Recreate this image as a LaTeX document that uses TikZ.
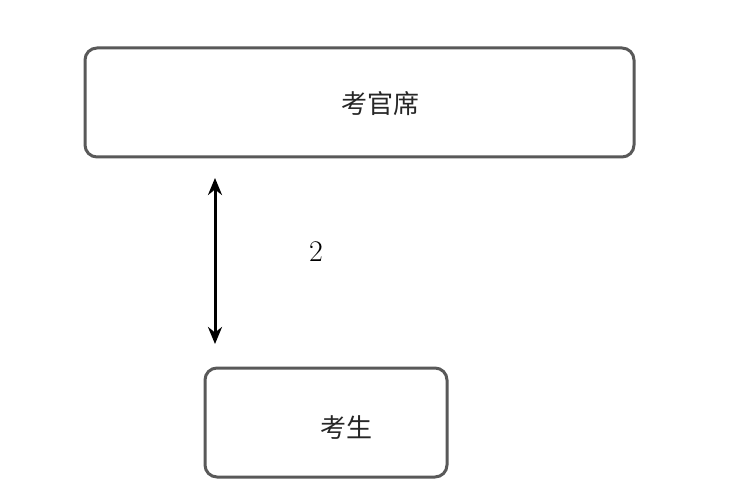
\documentclass[tikz,border=0pt]{standalone}
\usepackage{fontspec}
\newfontfamily\cjk{Noto Sans CJK SC}
\usetikzlibrary{arrows.meta}
\begin{document}
\begin{tikzpicture}[x=1pt,y=-1pt,
  boxstyle/.style={draw=black!65,line width=3pt,rounded corners=12pt,fill=white},
  lbl/.style={font=\cjk\fontsize{26}{26}\selectfont,text=black!85}]
\useasboundingbox[fill=white] (0,0) rectangle (730,494);
\draw[boxstyle] (85,48) rectangle (634,157);
\node[lbl] (t) at (380,104) {考官席};
\draw[boxstyle] (205,368) rectangle (447,477);
\node[lbl] (s) at (346,428) {考生};
\coordinate (a) at (215,178);
\coordinate (b) at (215,344);
\draw[line width=3pt,{Stealth[length=17pt,width=14pt]}-{Stealth[length=17pt,width=14pt]}] (a) -- (b);
\node[font=\fontsize{30}{30}\selectfont] (n) at (316,252) {2};
\end{tikzpicture}
\end{document}
